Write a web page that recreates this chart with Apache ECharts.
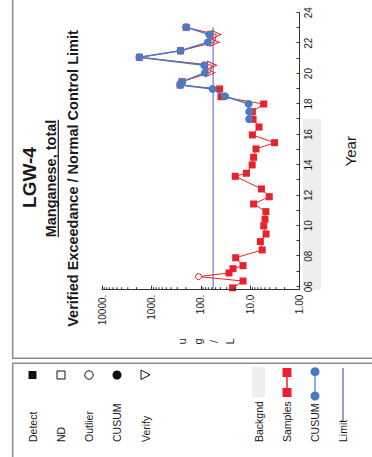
<!DOCTYPE html>
<html><head><meta charset="utf-8">
<script src="https://cdn.jsdelivr.net/npm/echarts@6/dist/echarts.min.js"></script>
<style>
html,body{margin:0;padding:0;background:#fff;overflow:hidden;width:372px;height:457px;}
#chart{position:absolute;left:0;top:0;width:457px;height:372px;transform-origin:0 0;transform:translate(0px,457px) rotate(-90deg);}
</style></head><body><div id="chart"></div>
<script>
// ---- data ----
const yearMin = 2005.8, yearMax = 2024;
const yearTickValues = [2006,2007,2008,2009,2010,2011,2012,2013,2014,2015,2016,2017,2018,2019,2020,2021,2022,2023,2024];
const yearLabelValues = [2006,2008,2010,2012,2014,2016,2018,2020,2022,2024];
const yearLabels = ['06','08','10','12','14','16','18','20','22','24'];
const logTickValues = [1,10,100,1000,10000];
const logTickLabels = ['1.00','10.0','100.','1000.','10000.'];
const sampleYears = [2005.92,2006.37,2006.66,2006.90,2007.18,2007.38,2007.90,2008.41,2008.96,2009.46,2009.99,2010.43,2010.93,2011.43,2011.91,2012.42,2013.25,2013.45,2014.00,2014.50,2015.05,2015.46,2015.97,2016.49,2017.00,2017.50,2018.00,2018.48,2018.99,2019.25,2019.47,2020.06,2020.55,2021.07,2021.50,2022.06,2022.56,2023.04];
const sampleValues = [22.6,13.9,111,26.8,22.2,13.9,19.6,5.7,6.2,4.75,5.3,5.0,4.8,8.5,4.1,5.9,20,11.9,9.1,8.5,7.6,3.2,9.0,6.6,8.7,9.0,5.3,39,41.5,261,240,64,59,1750,257,52.5,48.5,197];
const sampleFlags = ['D','D','O','D','D','D','D','D','D','D','D','D','D','D','D','D','D','D','D','D','D','D','D','D','D','D','D','D','D','D','D','V','V','D','D','V','V','D'];
const cusumYears = [2017.00,2017.50,2018.00,2018.51,2018.99,2019.25,2019.47,2020.06,2020.55,2021.07,2021.50,2022.06,2022.56,2023.04];
const cusumValues = [10.5,10.4,10.7,32.3,57.6,261,240,82,85,1750,257,71.5,67,197];
const limitValue = 56;
const limitYears = [2005.8, 2023.04];
const backgroundYears = [2005.8, 2017.0];
const titleText = 'LGW-4';
const analyteText = 'Manganese, total';
const subtitleText = 'Verified Exceedance / Normal Control Limit';
const xAxisName = 'Year';
const yAxisName = 'u\ng\n/\nL';
const legendMarkerLabels = ['Detect','ND','Outlier','CUSUM','Verify'];
const legendSeriesLabels = ['Backgnd','Samples','CUSUM','Limit'];

// ---- styles ----
const RED = '#e8212a', BLUE = '#4a7bc2', LIMIT = '#8796cc', FONT = 'Liberation Sans', INK = '#1a1a1a';
const logMinor = [];
[1,10,100,1000].forEach(d => { for (let k = 2; k <= 9; k++) logMinor.push(d * k); });

const sampleData = sampleYears.map((y, i) => {
  const f = sampleFlags[i];
  if (f === 'O') return {value:[y, sampleValues[i]], symbol:'circle', symbolSize:6, itemStyle:{color:'#fff', borderColor:RED, borderWidth:1}};
  if (f === 'V') return {value:[y, sampleValues[i]], symbol:'triangle', symbolSize:[8,9], symbolRotate:180, itemStyle:{color:'rgba(255,255,255,0)', borderColor:RED, borderWidth:1}};
  return {value:[y, sampleValues[i]], symbol:'rect', symbolSize:7, itemStyle:{color:RED}};
});

const chart = echarts.init(document.getElementById('chart'), null, {renderer:'svg', width:457, height:372});

const legendY1 = [32.5, 61, 89, 117, 145.5];
const legendY2 = [258.5, 287, 315, 343];
const graphic = [
  {type:'rect', shape:{x:98.7, y:12.7, width:400, height:420}, style:{fill:'none', stroke:'#8c8c8c', lineWidth:1.5}},
  {type:'rect', shape:{x:-20, y:12.7, width:113.7, height:420}, style:{fill:'none', stroke:'#8c8c8c', lineWidth:1.5}},
  {type:'text', x:279.5, y:29.5, style:{text:titleText, fontFamily:FONT, fontSize:19, fontWeight:'bold', fill:INK, align:'center', verticalAlign:'middle'}},
  {type:'text', x:278.5, y:50.5, style:{text:analyteText, fontFamily:FONT, fontSize:14.5, fontWeight:'bold', fill:INK, align:'center', verticalAlign:'middle'}},
  {type:'line', shape:{x1:219.8, y1:58.3, x2:337.2, y2:58.3}, style:{stroke:INK, lineWidth:1.2}},
  {type:'text', x:278.5, y:72.5, style:{text:subtitleText, fontFamily:FONT, fontSize:14.5, fontWeight:'bold', fill:INK, align:'center', verticalAlign:'middle'}},
  {type:'text', x:115.5, y:205.5, style:{text:yAxisName, fontFamily:FONT, fontSize:11, lineHeight:16, fill:INK, align:'center', verticalAlign:'middle'}},
  // legend markers
  {type:'rect', shape:{x:78, y:28.5, width:8, height:8}, style:{fill:'#111'}},
  {type:'rect', shape:{x:78, y:57, width:8, height:8}, style:{fill:'#fff', stroke:'#111', lineWidth:1}},
  {type:'circle', shape:{cx:82, cy:89, r:4.2}, style:{fill:'#fff', stroke:'#111', lineWidth:1}},
  {type:'circle', shape:{cx:82, cy:117, r:4.5}, style:{fill:'#111'}},
  {type:'polygon', shape:{points:[[77.5,141],[87,141],[82.2,150]]}, style:{fill:'#fff', stroke:'#111', lineWidth:1}},
  // legend series
  {type:'rect', shape:{x:60, y:252, width:30, height:13}, style:{fill:'#eeeeef'}},
  {type:'line', shape:{x1:64.5, y1:287, x2:84.5, y2:287}, style:{stroke:RED, lineWidth:1.5}},
  {type:'rect', shape:{x:60, y:282.5, width:9, height:9}, style:{fill:RED}},
  {type:'rect', shape:{x:80, y:282.5, width:9, height:9}, style:{fill:RED}},
  {type:'line', shape:{x1:61, y1:315, x2:85, y2:315}, style:{stroke:'#8fb0df', lineWidth:2}},
  {type:'circle', shape:{cx:61, cy:315, r:4.5}, style:{fill:BLUE}},
  {type:'circle', shape:{cx:85.3, cy:315, r:4.5}, style:{fill:BLUE}},
  {type:'line', shape:{x1:35, y1:343, x2:89, y2:343}, style:{stroke:'#2a3f9a', lineWidth:1}}
];
legendMarkerLabels.forEach((t, i) => graphic.push({type:'text', x:15, y:legendY1[i], style:{text:t, fontFamily:FONT, fontSize:10.5, fill:INK, align:'left', verticalAlign:'middle'}}));
legendSeriesLabels.forEach((t, i) => graphic.push({type:'text', x:15, y:legendY2[i], style:{text:t, fontFamily:FONT, fontSize:10.5, fill:INK, align:'left', verticalAlign:'middle'}}));

chart.setOption({
  animation:false,
  backgroundColor:'#fff',
  grid:{left:167.3, right:12.7, top:102, bottom:72.5, containLabel:false, outerBoundsMode:'none'},
  xAxis:{
    type:'value', min:yearMin, max:yearMax, position:'bottom', z:10,
    axisLine:{show:true, onZero:false, lineStyle:{color:'#333', width:1}},
    axisTick:{show:true, inside:true, length:3, customValues:yearTickValues, lineStyle:{color:'#333'}},
    axisLabel:{customValues:yearLabelValues, formatter:v => yearLabels[yearLabelValues.indexOf(Math.round(v))], fontSize:10, fontFamily:FONT, color:INK, margin:4},
    splitLine:{show:false},
    name:xAxisName, nameLocation:'middle', nameGap:43, nameTextStyle:{fontSize:15, fontFamily:FONT, color:INK}
  },
  yAxis:{
    type:'log', logBase:10, min:1, max:10000, position:'left', z:10,
    axisLine:{show:true, onZero:false, lineStyle:{color:'#333', width:1}},
    axisTick:{show:true, inside:true, length:4, lineStyle:{color:'#333'}},
    axisLabel:{formatter:v => logTickLabels[logTickValues.indexOf(Math.round(v))], fontSize:10, fontFamily:FONT, color:INK, margin:5},
    splitLine:{show:false}, minorTick:{show:false}, minorSplitLine:{show:false}
  },
  graphic:graphic,
  series:[
    {type:'custom', name:'Backgnd', coordinateSystem:'cartesian2d', clip:false, silent:true, z:1,
     data:[[backgroundYears[0], backgroundYears[1], 1]], encode:{x:[0,1], y:2},
     renderItem:(params, api) => {
       const a = api.coord([api.value(0), 1]); const b = api.coord([api.value(1), 1]);
       return {type:'rect', shape:{x:a[0], y:a[1] + 3.5, width:b[0] - a[0], height:18}, style:{fill:'#eeeeef'}};
     }},
    {type:'custom', name:'minorTicks', coordinateSystem:'cartesian2d', clip:false, silent:true, z:11,
     data:logMinor.map(v => [yearMin, v]),
     renderItem:(params, api) => {
       const p = api.coord([api.value(0), api.value(1)]);
       return {type:'line', shape:{x1:p[0], y1:p[1], x2:p[0] + 2.5, y2:p[1]}, style:{stroke:'#333', lineWidth:1}};
     }},
    {type:'line', name:'Limit', data:[[limitYears[0], limitValue],[limitYears[1], limitValue]], symbol:'none', silent:true, z:2,
     lineStyle:{color:LIMIT, width:1.5}},
    {type:'line', name:'Samples', data:sampleData, showAllSymbol:true, z:3, clip:true,
     lineStyle:{color:RED, width:1}, itemStyle:{color:RED}},
    {type:'line', name:'CUSUM', data:cusumYears.map((y, i) => [y, cusumValues[i]]), symbol:'circle', symbolSize:8, showAllSymbol:true, z:4,
     lineStyle:{color:BLUE, width:1.5}, itemStyle:{color:BLUE}}
  ]
});
</script></body></html>
